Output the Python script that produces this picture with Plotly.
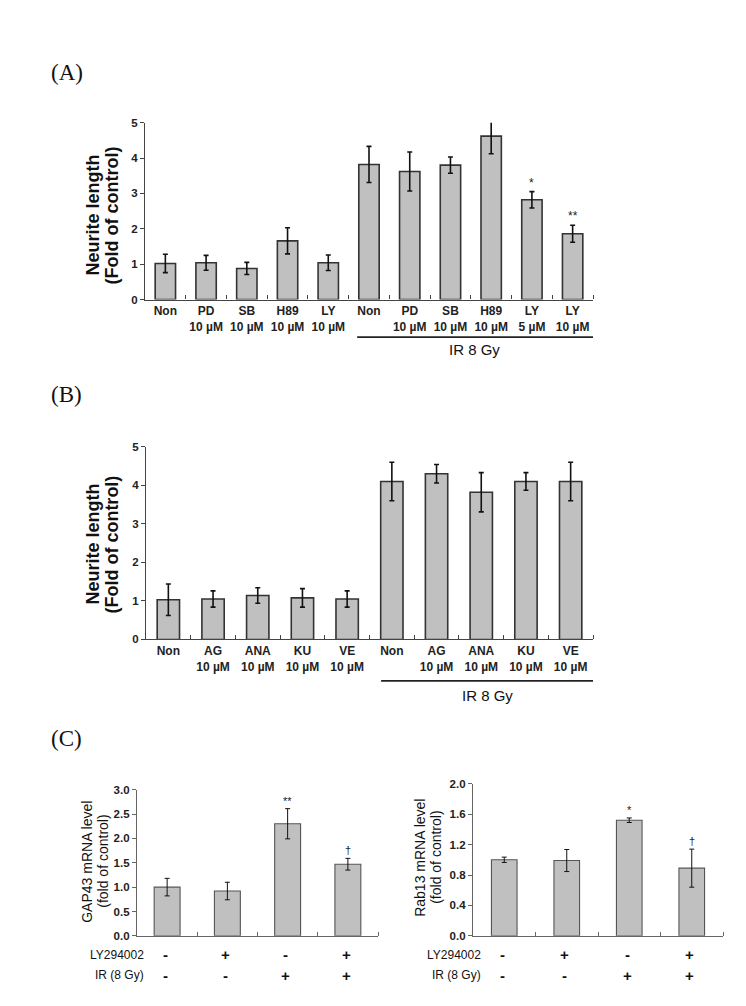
import plotly.graph_objects as go

W, H = 746, 1006

# ---------------- data ----------------
a_labels = ["Non", "PD<br>10 µM", "SB<br>10 µM", "H89<br>10 µM", "LY<br>10 µM",
            "Non", "PD<br>10 µM", "SB<br>10 µM", "H89<br>10 µM", "LY<br>5 µM", "LY<br>10 µM"]
a_values = [1.02, 1.04, 0.88, 1.66, 1.04, 3.82, 3.62, 3.80, 4.62, 2.82, 1.86]
a_errors = [0.26, 0.21, 0.17, 0.37, 0.22, 0.51, 0.55, 0.23, 0.50, 0.23, 0.24]
a_marks = ["", "", "", "", "", "", "", "", "", "*", "**"]

b_labels = ["Non", "AG<br>10 µM", "ANA<br>10 µM", "KU<br>10 µM", "VE<br>10 µM",
            "Non", "AG<br>10 µM", "ANA<br>10 µM", "KU<br>10 µM", "VE<br>10 µM"]
b_values = [1.03, 1.05, 1.14, 1.08, 1.05, 4.10, 4.30, 3.82, 4.10, 4.10]
b_errors = [0.41, 0.21, 0.20, 0.24, 0.21, 0.50, 0.24, 0.51, 0.23, 0.50]

c_ly = ["-", "+", "-", "+"]
c_ir = ["-", "-", "+", "+"]
gap43_values = [1.00, 0.92, 2.30, 1.47]
gap43_errors = [0.18, 0.18, 0.31, 0.12]
gap43_marks = ["", "", "**", "†"]
rab13_values = [1.00, 0.99, 1.52, 0.89]
rab13_errors = [0.035, 0.145, 0.03, 0.25]
rab13_marks = ["", "", "*", "†"]

# ---------------- helpers ----------------
def px_x(x):
    return x / W

def px_y(y):
    return 1 - y / H

BAR_FILL = "#c0c0c0"
SANS = "Liberation Sans"

fig = go.Figure()

def add_bars(xref, yref, values, errors, line_w, line_c, err_th, err_w, bw):
    fig.add_trace(go.Bar(
        x=list(range(len(values))), y=values, width=bw,
        xaxis=xref, yaxis=yref,
        marker=dict(color=BAR_FILL, line=dict(color=line_c, width=line_w)),
        error_y=dict(type="data", array=errors, visible=True,
                     color="#111", thickness=err_th, width=err_w),
        showlegend=False, hoverinfo="skip"))

add_bars("x", "y", a_values, a_errors, 1.6, "#333", 1.6, 2.5, 0.5)
add_bars("x2", "y2", b_values, b_errors, 1.6, "#333", 1.6, 2.5, 0.5)
add_bars("x3", "y3", gap43_values, gap43_errors, 1.1, "#555", 1.0, 2.5, 0.43)
add_bars("x4", "y4", rab13_values, rab13_errors, 1.1, "#555", 1.0, 2.5, 0.41)

def xaxis_cfg(n, x0, x1, labels, fontsize, anchor, linecol):
    return dict(
        domain=[px_x(x0), px_x(x1)], range=[-0.5, n - 0.5], anchor=anchor,
        tickmode="array", tickvals=list(range(n)), ticktext=labels,
        ticks="", showgrid=False, zeroline=False,
        showline=True, linecolor=linecol, linewidth=1.3,
        tickfont=dict(family=SANS, size=fontsize, color="#222", weight="bold"),
        minor=dict(tickmode="array", tickvals=[i + 0.5 for i in range(n)],
                   ticks="inside", ticklen=4, tickcolor=linecol, tickwidth=1),
        fixedrange=True)

def yaxis_cfg(y_top, y_bot, rng, dtick, fmt, anchor, linecol, fsize):
    return dict(
        domain=[px_y(y_bot), px_y(y_top)], range=rng, anchor=anchor,
        dtick=dtick, tick0=0, tickformat=fmt,
        ticks="outside", ticklen=4, tickcolor=linecol, tickwidth=1,
        showgrid=False, zeroline=False,
        showline=True, linecolor=linecol, linewidth=1.3,
        tickfont=dict(family=SANS, size=fsize, color="#222", weight="bold"),
        fixedrange=True)

ax_a = dict(x0=137, x1=585, yt=110, yb=289)
ax_b = dict(x0=138, x1=585, yt=438, yb=633)
ax_c1 = dict(x0=129, x1=370, yt=785, yb=933)
ax_c2 = dict(x0=465, x1=715, yt=779, yb=933)

fig.update_layout(
    width=W, height=H, margin=dict(l=0, r=0, t=0, b=0),
    paper_bgcolor="white", plot_bgcolor="white",
    xaxis=xaxis_cfg(len(a_values), ax_a["x0"], ax_a["x1"], a_labels, 12, "y", "#444"),
    yaxis=yaxis_cfg(ax_a["yt"], ax_a["yb"], [0, 5], 1, "d", "x", "#444", 11.5),
    xaxis2=xaxis_cfg(len(b_values), ax_b["x0"], ax_b["x1"], b_labels, 12, "y2", "#444"),
    yaxis2=yaxis_cfg(ax_b["yt"], ax_b["yb"], [0, 5], 1, "d", "x2", "#444", 11.5),
    xaxis3=xaxis_cfg(4, ax_c1["x0"], ax_c1["x1"], [""] * 4, 11, "y3", "#666"),
    yaxis3=yaxis_cfg(ax_c1["yt"], ax_c1["yb"], [0, 3], 0.5, ".1f", "x3", "#666", 11.5),
    xaxis4=xaxis_cfg(4, ax_c2["x0"], ax_c2["x1"], [""] * 4, 11, "y4", "#666"),
    yaxis4=yaxis_cfg(ax_c2["yt"], ax_c2["yb"], [0, 2], 0.4, ".1f", "x4", "#666", 11.5),
)

ann = []

# panel letters
for txt, yc in [("(A)", 59), ("(B)", 385), ("(C)", 733)]:
    ann.append(dict(text=txt, x=px_x(41), y=px_y(yc), xref="paper", yref="paper",
                    xanchor="left", yanchor="middle", showarrow=False,
                    font=dict(family="Liberation Serif", size=23, color="#111")))

# y titles (each line placed separately for tight line spacing)
titles = [
    ("Neurite length", 85, 204, 18, True),
    ("(Fold of control)", 104, 204, 18, True),
    ("Neurite length", 85, 537, 18, True),
    ("(Fold of control)", 104, 537, 18, True),
    ("GAP43 mRNA level", 79, 858, 14, False),
    ("(fold of control)", 95, 858, 14, False),
    ("Rab13 mRNA level", 412, 854, 14, False),
    ("(fold of control)", 428, 854, 14, False),
]
for txt, xc, yc, fs, bold in titles:
    ann.append(dict(text=txt, x=px_x(xc), y=px_y(yc), xref="paper", yref="paper",
                    xanchor="center", yanchor="middle", textangle=-90, showarrow=False,
                    font=dict(family=SANS, size=fs, color="#111",
                              weight="bold" if bold else "normal")))

# significance marks
def add_marks(xr, yr, values, errors, marks, fs):
    for i, m in enumerate(marks):
        if m:
            ann.append(dict(text=m, x=i, y=values[i] + errors[i], xref=xr, yref=yr,
                            xanchor="center", yanchor="bottom", showarrow=False,
                            font=dict(family=SANS, size=fs, color="#222")))

add_marks("x", "y", a_values, a_errors, a_marks, 12)
add_marks("x3", "y3", gap43_values, gap43_errors, gap43_marks, 11)
add_marks("x4", "y4", rab13_values, rab13_errors, rab13_marks, 11)

# IR 8 Gy group lines
shapes = []
for xr, xs, xe, ly, ty, tx in [("x", 4.71, 10.5, 327, 340, 466),
                               ("x2", 4.76, 9.5, 675, 690, 479)]:
    shapes.append(dict(type="line", xref=xr, yref="paper", x0=xs, x1=xe,
                       y0=px_y(ly), y1=px_y(ly), line=dict(color="#222", width=1.8)))
    ann.append(dict(text="IR 8 Gy", x=px_x(tx), y=px_y(ty), xref="paper", yref="paper",
                    xanchor="center", yanchor="middle", showarrow=False,
                    font=dict(family=SANS, size=15, color="#111")))

# C: treatment rows
for xr, lab_x in [("x3", 138), ("x4", 475)]:
    for rowname, flags, yc in [("LY294002", c_ly, 952), ("IR (8 Gy)", c_ir, 973)]:
        ann.append(dict(text=rowname, x=px_x(lab_x), y=px_y(yc), xref="paper", yref="paper",
                        xanchor="right", yanchor="middle", showarrow=False,
                        font=dict(family=SANS, size=12, color="#111")))
        for i, f in enumerate(flags):
            ann.append(dict(text=f, x=i - 0.03, y=px_y(yc), xref=xr, yref="paper",
                            xanchor="center", yanchor="middle", showarrow=False,
                            font=dict(family=SANS, size=15, color="#111", weight="bold")))

fig.update_layout(annotations=ann, shapes=shapes)
fig.write_html("out.html")
